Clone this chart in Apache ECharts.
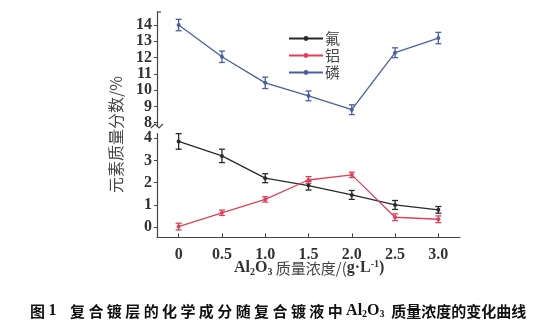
<!DOCTYPE html>
<html><head><meta charset="utf-8">
<script src="https://cdn.jsdelivr.net/npm/echarts@6/dist/echarts.min.js"></script>
<style>html,body{margin:0;padding:0;background:#fff}#c{width:560px;height:334px}</style>
</head><body><div id="c"></div>
<script>
const xValues = [0, 0.5, 1.0, 1.5, 2.0, 2.5, 3.0];
const xTickLabels = ['0', '0.5', '1.0', '1.5', '2.0', '2.5', '3.0'];
const seriesNames = ['氟', '铝', '磷'];
const fluorine = [3.85, 3.2, 2.2, 1.87, 1.45, 1.0, 0.78];
const fluorineErr = [0.35, 0.3, 0.2, 0.2, 0.2, 0.2, 0.15];
const aluminium = [0.03, 0.65, 1.25, 2.12, 2.35, 0.45, 0.36];
const aluminiumErr = [0.15, 0.12, 0.12, 0.15, 0.12, 0.15, 0.15];
const phosphorus = [14.0, 12.05, 10.45, 9.65, 8.8, 12.3, 13.2];
const phosphorusErr = [0.35, 0.35, 0.35, 0.3, 0.3, 0.3, 0.35];
const upperTicks = [8, 9, 10, 11, 12, 13, 14];
const lowerTicks = [0, 1, 2, 3, 4];

const colors = ['#2a2a2a', '#e0405a', '#4a5ea6'];
const tickFont = {fontFamily: 'Liberation Serif', fontSize: 16, fontWeight: 'bold', color: '#333'};

function pairs(vals) { return xValues.map((x, i) => [x, vals[i]]); }
function errData(vals, errs) { return xValues.map((x, i) => [x, vals[i] - errs[i], vals[i] + errs[i]]); }
function errSeries(vals, errs, color, idx) {
  return {
    type: 'custom', xAxisIndex: idx, yAxisIndex: idx, silent: true, z: 3,
    data: errData(vals, errs),
    renderItem: function (params, api) {
      const lo = api.coord([api.value(0), api.value(1)]);
      const hi = api.coord([api.value(0), api.value(2)]);
      const w = 3;
      const st = {stroke: color, lineWidth: 1.3};
      return {type: 'group', children: [
        {type: 'line', shape: {x1: lo[0], y1: lo[1], x2: hi[0], y2: hi[1]}, style: st},
        {type: 'line', shape: {x1: lo[0] - w, y1: lo[1], x2: lo[0] + w, y2: lo[1]}, style: st},
        {type: 'line', shape: {x1: hi[0] - w, y1: hi[1], x2: hi[0] + w, y2: hi[1]}, style: st}
      ]};
    }
  };
}
function lineSeries(name, vals, color, idx) {
  return {
    name: name, type: 'line', xAxisIndex: idx, yAxisIndex: idx, data: pairs(vals),
    symbol: 'circle', symbolSize: 4, lineStyle: {color: color, width: 1.3},
    itemStyle: {color: color}, z: 4
  };
}
const axisLineStyle = {show: true, onZero: false, lineStyle: {color: '#444', width: 1.2}};

const chart = echarts.init(document.getElementById('c'));
chart.setOption({
  backgroundColor: '#fff',
  animation: false,
  grid: [
    {left: 157, right: 100, top: 12, height: 114},
    {left: 157, right: 100, top: 133.6, height: 103.7}
  ],
  xAxis: [
    {gridIndex: 0, type: 'value', min: -0.25, max: 3.25, show: false},
    {gridIndex: 1, type: 'value', min: -0.25, max: 3.25,
      axisLine: axisLineStyle,
      axisTick: {show: true, inside: true, length: 4, customValues: xValues, lineStyle: {color: '#444'}},
      axisLabel: Object.assign({customValues: xValues, margin: 10,
        formatter: v => xTickLabels[xValues.indexOf(Math.round(v * 10) / 10)]}, tickFont),
      splitLine: {show: false}}
  ],
  yAxis: [
    {gridIndex: 0, type: 'value', min: 7.8, max: 14.8,
      axisLine: axisLineStyle,
      axisTick: {show: true, length: 3, customValues: upperTicks, lineStyle: {color: '#444'}},
      axisLabel: Object.assign({customValues: upperTicks, margin: 5}, tickFont),
      splitLine: {show: false}},
    {gridIndex: 1, type: 'value', min: -0.45, max: 4.2,
      axisLine: axisLineStyle,
      axisTick: {show: true, length: 3, customValues: lowerTicks, lineStyle: {color: '#444'}},
      axisLabel: Object.assign({customValues: lowerTicks, margin: 5}, tickFont),
      splitLine: {show: false}}
  ],
  legend: {
    left: 283, top: 26, orient: 'vertical', itemWidth: 34, itemHeight: 6, itemGap: 2,
    data: seriesNames,
    textStyle: {fontFamily: 'Noto Sans CJK SC', fontSize: 15, color: '#444', padding: [0, 0, 0, -3]}
  },
  graphic: [
    {type: 'text', left: 108, top: 76, rotation: Math.PI / 2,
      style: {text: '元素质量分数/%', font: '16px "Noto Sans CJK SC"', fill: '#444'}},
    {type: 'text', left: 234, top: 259,
      style: {rich: {
          a: {fontFamily: 'Liberation Serif', fontSize: 16, fontWeight: 'bold', fill: '#333'},
          s: {fontFamily: 'Liberation Serif', fontSize: 10, fontWeight: 'bold', fill: '#333', padding: [8, 0, 0, 0]},
          c: {fontFamily: 'Noto Sans CJK SC', fontSize: 15, fill: '#444'},
          p: {fontFamily: 'Liberation Serif', fontSize: 10, fontWeight: 'bold', fill: '#333', padding: [0, 0, 8, 0]}
        },
        text: '{a|Al}{s|2}{a|O}{s|3}{c| 质量浓度/(}{a|g·L}{p|-1}{a|)}'}},
    {type: 'text', left: 30, top: 303,
      style: {rich: {
          b: {fontFamily: 'Noto Sans CJK SC', fontSize: 15, fontWeight: 'bold', fill: '#111'},
          a: {fontFamily: 'Liberation Serif', fontSize: 16, fontWeight: 'bold', fill: '#111'},
          s: {fontFamily: 'Liberation Serif', fontSize: 10, fontWeight: 'bold', fill: '#111', padding: [7, 0, 0, 0]}
        },
        text: '{b|图 }{a|1}{b|    复 合 镀 层 的 化 学 成 分 随 复 合 镀 液 中 }{a|Al}{s|2}{a|O}{s|3}{b|  质量浓度的变化曲线}'}},
    {type: 'polyline', shape: {points: [[151, 128], [155, 124], [159, 128], [163, 124]]},
      style: {stroke: '#444', lineWidth: 1.2, fill: null}},
    {type: 'line', shape: {x1: 157, y1: 12, x2: 161, y2: 12}, style: {stroke: '#444', lineWidth: 1.2}}
  ],
  series: [
    lineSeries(seriesNames[0], fluorine, colors[0], 1),
    errSeries(fluorine, fluorineErr, colors[0], 1),
    lineSeries(seriesNames[1], aluminium, colors[1], 1),
    errSeries(aluminium, aluminiumErr, colors[1], 1),
    lineSeries(seriesNames[2], phosphorus, colors[2], 0),
    errSeries(phosphorus, phosphorusErr, colors[2], 0)
  ]
});
</script></body></html>
